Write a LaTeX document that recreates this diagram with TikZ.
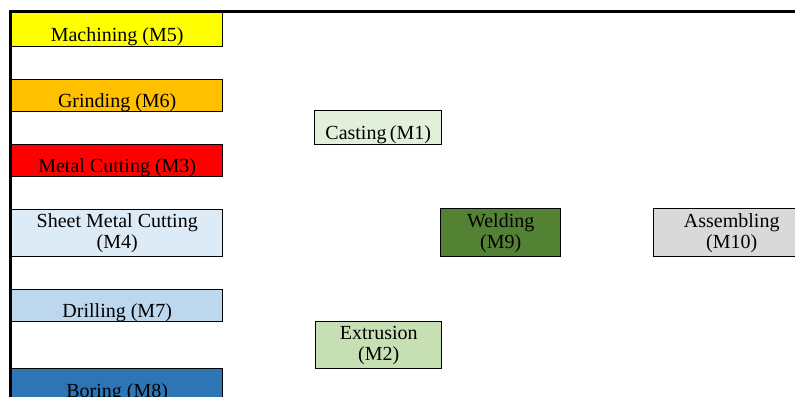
\documentclass[tikz,border=0pt]{standalone}
\usepackage{fontspec}
\setmainfont{Liberation Serif}
\usepackage{xcolor}
\usetikzlibrary{positioning}
\definecolor{machining}{HTML}{FFFF00}
\definecolor{grinding}{HTML}{FFC000}
\definecolor{cutting}{HTML}{FF0000}
\definecolor{sheet}{HTML}{DDEBF7}
\definecolor{drilling}{HTML}{BDD7EE}
\definecolor{boring}{HTML}{2E75B6}
\definecolor{casting}{HTML}{E2EFDA}
\definecolor{extrusion}{HTML}{C6E0B4}
\definecolor{welding}{HTML}{548235}
\definecolor{assembling}{HTML}{D9D9D9}
\tikzset{
proc/.style={draw=black, line width=0.7pt, inner sep=0pt, anchor=north west, font=\fontsize{10}{10.5}\selectfont},
oneline/.style={proc, minimum height=16pt, text height=14pt, text depth=2pt},
twoline/.style={proc, minimum height=23.5pt, align=center}
}

\begin{document}
\begin{tikzpicture}[x=0.5pt, y=-0.5pt]
\useasboundingbox (0,0) rectangle (795,396);
\clip (0,0) rectangle (795,396);

% left column
\node[oneline, fill=machining, minimum width=105.5pt, minimum height=17pt] (m5) at (11,12) {Machining (M5)};
\node[oneline, fill=grinding, minimum width=105.5pt] (m6) at (11,79) {Grinding (M6)};
\node[oneline, fill=cutting, minimum width=105.5pt] (m3) at (11,144) {Metal Cutting (M3)};
\node[twoline, fill=sheet, minimum width=105.5pt] (m4) at (11,209) {Sheet Metal Cutting\\(M4)};
\node[oneline, fill=drilling, minimum width=105.5pt] (m7) at (11,289) {Drilling (M7)};
\node[oneline, fill=boring, minimum width=105.5pt, minimum height=17pt] (m8) at (11,368) {Boring (M8)};

% middle and right
\node[oneline, fill=casting, minimum width=63.5pt, minimum height=17pt] (m1) at (314,110) {Casting\,(M1)};
\node[twoline, fill=extrusion, minimum width=63pt] (m2) at (315,321) {Extrusion\\(M2)};
\node[twoline, fill=welding, minimum width=60pt, minimum height=24pt] (m9) at (440,208) {Welding\\(M9)};
\node[twoline, fill=assembling, minimum width=78pt, minimum height=24pt] (m10) at (653,208) {Assembling\\(M10)};

\draw[line width=1.5pt] (10.5,400) -- (10.5,11.5) -- (800,11.5);
\end{tikzpicture}
\end{document}
